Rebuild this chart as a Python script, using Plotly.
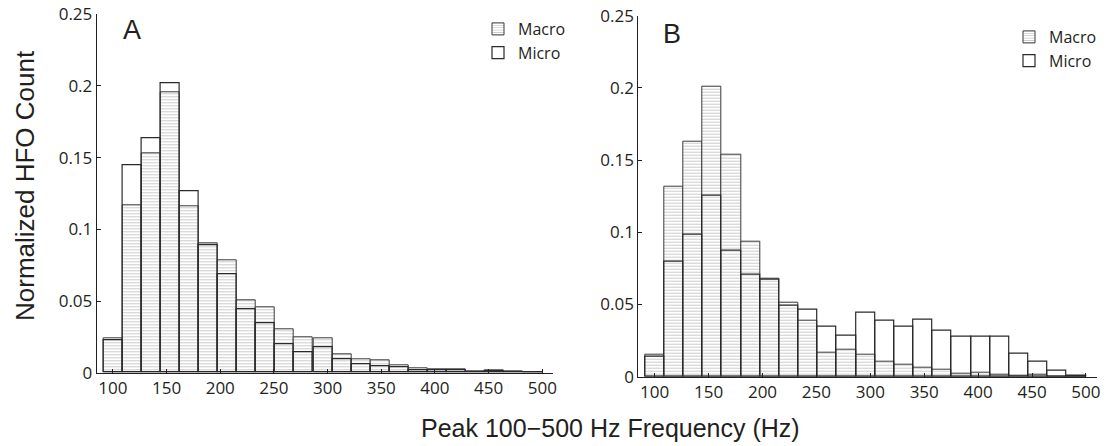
import plotly.graph_objects as go

# Bin centres (Hz) of the 23 histogram bins (bin width ~17.8 Hz)
bin_centers = [99.9, 117.7, 135.5, 153.2, 171.0, 188.8, 206.6, 224.4, 242.1, 259.9,
               277.7, 295.5, 313.3, 331.0, 348.8, 366.6, 384.4, 402.2, 419.9, 437.7,
               455.5, 473.3, 491.1]
bin_width = 17.78

# Panel A
macro_A = [0.0240, 0.1165, 0.1530, 0.1955, 0.1163, 0.0900, 0.0784, 0.0502, 0.0456, 0.0305,
           0.0247, 0.0237, 0.0128, 0.0093, 0.0084, 0.0049, 0.0031, 0.0023, 0.0026, 0.0010,
           0.0019, 0.0010, 0.0005]
micro_A = [0.0223, 0.1448, 0.1637, 0.2022, 0.1267, 0.0890, 0.0688, 0.0444, 0.0344, 0.0195,
           0.0142, 0.0175, 0.0093, 0.0059, 0.0047, 0.0037, 0.0019, 0.0014, 0.0015, 0.0005,
           0.0010, 0.0006, 0.0003]

# Panel B
macro_B = [0.0153, 0.1315, 0.1630, 0.2010, 0.1535, 0.0938, 0.0676, 0.0510, 0.0389, 0.0169,
           0.0190, 0.0153, 0.0107, 0.0086, 0.0063, 0.0051, 0.0024, 0.0028, 0.0017, 0.0005,
           0.0016, 0.0003, 0.0002]
micro_B = [0.0139, 0.0797, 0.0984, 0.1255, 0.0871, 0.0706, 0.0669, 0.0490, 0.0463, 0.0345,
           0.0287, 0.0440, 0.0389, 0.0345, 0.0392, 0.0320, 0.0274, 0.0278, 0.0276, 0.0158,
           0.0102, 0.0040, 0.0010]

x_ticks = [100, 150, 200, 250, 300, 350, 400, 450, 500]
y_ticks = [0, 0.05, 0.1, 0.15, 0.2, 0.25]
y_tick_text = ["0", "0.05", "0.1", "0.15", "0.2", "0.25"]

W, H = 1112, 446
INK = "#231f20"
TICKFONT = dict(family="Open Sans", size=17, color=INK)

hatch = dict(shape="-", fgcolor="#999999", bgcolor="white", size=3, solidity=0.35)

fig = go.Figure()

def add_panel(macro, micro, xa, ya, legend):
    fig.add_trace(go.Bar(x=bin_centers, y=macro, width=bin_width, name="Macro",
                         xaxis=xa, yaxis=ya, legend=legend,
                         marker=dict(color="white", pattern=hatch,
                                     line=dict(color="#3a3a3a", width=1))))
    fig.add_trace(go.Bar(x=bin_centers, y=micro, width=bin_width, name="Micro",
                         xaxis=xa, yaxis=ya, legend=legend,
                         marker=dict(color="rgba(0,0,0,0)",
                                     line=dict(color="#2a2a2a", width=1.2))))

add_panel(macro_A, micro_A, "x", "y", "legend")
add_panel(macro_B, micro_B, "x2", "y2", "legend2")

def px_x(p):
    return p / W

def px_y(p):
    return 1 - p / H

axis_common = dict(showline=True, linecolor=INK, linewidth=1, ticks="inside", ticklen=4,
                   tickcolor=INK, showgrid=False, zeroline=False, mirror=False,
                   tickfont=TICKFONT, automargin=False)

legend_font = dict(family="Open Sans", size=16, color=INK)

fig.update_layout(
    width=W, height=H,
    margin=dict(l=0, r=0, t=0, b=0, autoexpand=False),
    paper_bgcolor="white", plot_bgcolor="white",
    barmode="overlay", bargap=0,
    xaxis=dict(domain=[px_x(96.7), px_x(553)], range=[84.9, 510], anchor="y",
               tickvals=x_ticks, **axis_common),
    yaxis=dict(domain=[px_y(372.7), px_y(14.3)], range=[0, 0.25], anchor="x",
               tickvals=y_ticks, ticktext=y_tick_text, **axis_common),
    xaxis2=dict(domain=[px_x(638.3), px_x(1096.7)], range=[84.8, 510], anchor="y2",
                tickvals=x_ticks, **axis_common),
    yaxis2=dict(domain=[px_y(376.7), px_y(15.7)], range=[0, 0.25], anchor="x2",
                tickvals=y_ticks, ticktext=y_tick_text, **axis_common),
    legend=dict(x=px_x(478), y=px_y(12), xanchor="left", yanchor="top",
                xref="container", yref="container",
                bgcolor="rgba(0,0,0,0)", font=legend_font,
                tracegroupgap=0, itemwidth=30),
    legend2=dict(x=px_x(1009), y=px_y(20), xanchor="left", yanchor="top",
                 xref="container", yref="container",
                 bgcolor="rgba(0,0,0,0)", font=legend_font,
                 tracegroupgap=0, itemwidth=30),
    showlegend=True,
)

annotations = [
    dict(text="A", x=px_x(131.7), y=px_y(29.5), xref="paper", yref="paper",
         xanchor="center", yanchor="middle", showarrow=False,
         font=dict(family="Liberation Sans", size=27, color=INK)),
    dict(text="B", x=px_x(672), y=px_y(34), xref="paper", yref="paper",
         xanchor="center", yanchor="middle", showarrow=False,
         font=dict(family="Liberation Sans", size=27, color=INK)),
    dict(text="Normalized HFO Count", x=px_x(25), y=px_y(186), xref="paper", yref="paper",
         xanchor="center", yanchor="middle", showarrow=False, textangle=-90,
         font=dict(family="Liberation Sans", size=26, color=INK)),
    dict(text="Peak 100\u2212500 Hz Frequency (Hz)", x=px_x(610), y=px_y(428),
         xref="paper", yref="paper", xanchor="center", yanchor="middle", showarrow=False,
         font=dict(family="Liberation Sans", size=25, color=INK)),
]
fig.update_layout(annotations=annotations)

fig.write_html("out.html")
